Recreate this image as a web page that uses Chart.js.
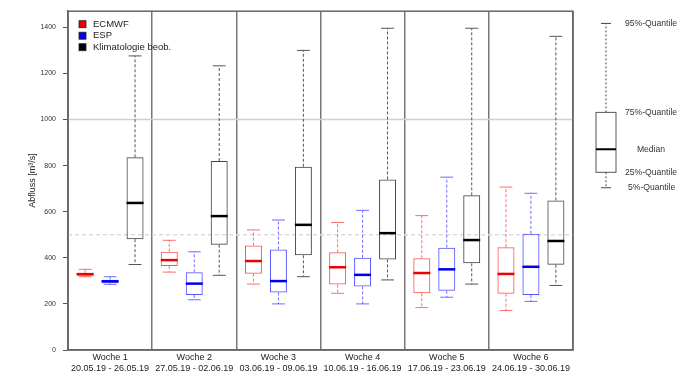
<!DOCTYPE html>
<html>
<head>
<meta charset="utf-8">
<script src="https://cdn.jsdelivr.net/npm/chart.js@4.4.1/dist/chart.umd.min.js"></script>
<style>
  html, body { margin: 0; padding: 0; background: #fff; }
  #wrap { width: 683px; height: 373px; }
</style>
</head>
<body>
<div id="wrap"><canvas id="myChart"></canvas></div>
<script>
// weeks and dates on the x axis
const weeks = ["Woche 1", "Woche 2", "Woche 3", "Woche 4", "Woche 5", "Woche 6"];
const dates = ["20.05.19 - 26.05.19", "27.05.19 - 02.06.19", "03.06.19 - 09.06.19",
               "10.06.19 - 16.06.19", "17.06.19 - 23.06.19", "24.06.19 - 30.06.19"];
const yTicks = [0, 200, 400, 600, 800, 1000, 1200, 1400];

// ECMWF quantiles
const ecmwfP5  = [318, 338, 286, 246, 184, 171];
const ecmwfQ25 = [322, 364, 331, 284, 246, 244];
const ecmwfMed = [329, 390, 386, 359, 334, 330];
const ecmwfQ75 = [335, 426, 453, 424, 398, 446];
const ecmwfP95 = [350, 476, 521, 553, 583, 707];

// ESP quantiles
const espP5  = [285, 218, 200, 200, 229, 211];
const espQ25 = [290, 239, 250, 276, 257, 239];
const espMed = [298, 288, 299, 326, 350, 361];
const espQ75 = [305, 337, 436, 400, 444, 504];
const espP95 = [318, 426, 564, 606, 750, 680];

// Klimatologie beob. quantiles
const klimaP5  = [371, 324, 318, 304, 286, 280];
const klimaQ25 = [481, 457, 411, 393, 376, 370];
const klimaMed = [638, 581, 543, 507, 477, 473];
const klimaQ75 = [836, 820, 795, 740, 671, 649];
const klimaP95 = [1276, 1233, 1300, 1396, 1396, 1361];

// reference lines
const solidLine = 1000;
const dashedLine = 500;

// schematic box in the right margin (5%, 25%, median, 75%, 95%)
const keyValues = [704, 771, 871, 1031, 1417];
const keyLabels = ["5%-Quantile", "25%-Quantile", "Median", "75%-Quantile", "95%-Quantile"];

const FONT = "'Liberation Sans', Arial, sans-serif";

function makeSet(label, box, whisker, median, p5, q25, med, q75, p95) {
    return {
        label: label,
        data: weeks.map((w, i) => [q25[i], q75[i]]),
        backgroundColor: "rgba(255,255,255,0)",
        borderColor: box,
        borderWidth: 1,
        borderSkipped: false,
        whiskerColor: whisker,
        medianColor: median,
        stats: { p5: p5, med: med, p95: p95 }
    };
}

const boxPlugin = {
    id: "boxWhiskers",
    beforeDatasetsDraw(chart) {
        const ctx = chart.ctx, a = chart.chartArea, y = chart.scales.y;
        ctx.save();
        ctx.lineWidth = 1.5;
        ctx.strokeStyle = "#d0d0d0";
        ctx.beginPath();
        ctx.moveTo(a.left, y.getPixelForValue(solidLine));
        ctx.lineTo(a.right, y.getPixelForValue(solidLine));
        ctx.stroke();
        ctx.strokeStyle = "#dcdcdc";
        ctx.setLineDash([4, 3]);
        ctx.beginPath();
        ctx.moveTo(a.left, y.getPixelForValue(dashedLine));
        ctx.lineTo(a.right, y.getPixelForValue(dashedLine));
        ctx.stroke();
        ctx.restore();
    },
    afterDatasetsDraw(chart) {
        const ctx = chart.ctx, y = chart.scales.y;
        ctx.save();
        chart.data.datasets.forEach((ds, di) => {
            const meta = chart.getDatasetMeta(di);
            meta.data.forEach((bar, i) => {
                const x = bar.x, w = bar.width;
                const lo = ds.data[i][0], hi = ds.data[i][1];
                const s = ds.stats;
                // whiskers
                ctx.strokeStyle = ds.whiskerColor;
                ctx.lineWidth = 1;
                ctx.setLineDash([3, 2]);
                ctx.beginPath();
                ctx.moveTo(x, y.getPixelForValue(hi));
                ctx.lineTo(x, y.getPixelForValue(s.p95[i]));
                ctx.moveTo(x, y.getPixelForValue(lo));
                ctx.lineTo(x, y.getPixelForValue(s.p5[i]));
                ctx.stroke();
                ctx.setLineDash([]);
                // caps
                ctx.beginPath();
                ctx.moveTo(x - w * 0.38, y.getPixelForValue(s.p95[i]));
                ctx.lineTo(x + w * 0.38, y.getPixelForValue(s.p95[i]));
                ctx.moveTo(x - w * 0.38, y.getPixelForValue(s.p5[i]));
                ctx.lineTo(x + w * 0.38, y.getPixelForValue(s.p5[i]));
                ctx.stroke();
                // median
                ctx.strokeStyle = ds.medianColor;
                ctx.lineWidth = 2.5;
                ctx.beginPath();
                ctx.moveTo(x - w / 2, y.getPixelForValue(s.med[i]));
                ctx.lineTo(x + w / 2, y.getPixelForValue(s.med[i]));
                ctx.stroke();
            });
        });
        ctx.restore();
    },
    afterDraw(chart) {
        const ctx = chart.ctx, a = chart.chartArea, y = chart.scales.y;
        ctx.save();
        // frame
        ctx.strokeStyle = "#666";
        ctx.lineWidth = 1.5;
        ctx.strokeRect(a.left, a.top, a.right - a.left, a.bottom - a.top);

        // legend top-left
        ctx.font = "9.5px " + FONT;
        ctx.textBaseline = "middle";
        ctx.textAlign = "left";
        chart.data.datasets.forEach((ds, di) => {
            const ly = a.top + 13 + di * 11.5;
            ctx.fillStyle = ds.medianColor;
            ctx.fillRect(a.left + 11, ly - 3.5, 7, 7);
            ctx.strokeStyle = "#222";
            ctx.lineWidth = 0.8;
            ctx.strokeRect(a.left + 11, ly - 3.5, 7, 7);
            ctx.fillStyle = "#222";
            ctx.fillText(ds.label, a.left + 25, ly);
        });

        // schematic key on the right
        const kx = a.right + 33, kw = 20;
        const py = keyValues.map(v => y.getPixelForValue(v));
        ctx.strokeStyle = "#444";
        ctx.lineWidth = 1;
        ctx.setLineDash([2, 2]);
        ctx.beginPath();
        ctx.moveTo(kx, py[3]); ctx.lineTo(kx, py[4]);
        ctx.moveTo(kx, py[1]); ctx.lineTo(kx, py[0]);
        ctx.stroke();
        ctx.setLineDash([]);
        ctx.beginPath();
        ctx.moveTo(kx - 5, py[4]); ctx.lineTo(kx + 5, py[4]);
        ctx.moveTo(kx - 5, py[0]); ctx.lineTo(kx + 5, py[0]);
        ctx.stroke();
        ctx.strokeStyle = "#555";
        ctx.strokeRect(kx - kw / 2, py[3], kw, py[1] - py[3]);
        ctx.strokeStyle = "#000";
        ctx.lineWidth = 2;
        ctx.beginPath();
        ctx.moveTo(kx - kw / 2, py[2]); ctx.lineTo(kx + kw / 2, py[2]);
        ctx.stroke();
        ctx.font = "8.6px " + FONT;
        ctx.fillStyle = "#333";
        keyLabels.forEach((t, k) => {
            if (t === "Median") {
                ctx.textAlign = "center";
                ctx.fillText(t, kx + 45, py[k]);
            } else {
                ctx.textAlign = "left";
                ctx.fillText(t, k === 0 ? kx + 22 : kx + 19, py[k]);
            }
        });
        ctx.restore();
    }
};

new Chart("myChart", {
    type: "bar",
    data: {
        labels: weeks.map((w, i) => [w, dates[i]]),
        datasets: [
            makeSet("ECMWF", "rgba(255,40,40,0.8)", "rgba(255,60,60,0.75)", "#ee0000",
                    ecmwfP5, ecmwfQ25, ecmwfMed, ecmwfQ75, ecmwfP95),
            makeSet("ESP", "rgba(40,40,255,0.8)", "rgba(60,60,255,0.75)", "#0000ee",
                    espP5, espQ25, espMed, espQ75, espP95),
            makeSet("Klimatologie beob.", "#444", "#555", "#000",
                    klimaP5, klimaQ25, klimaMed, klimaQ75, klimaP95)
        ]
    },
    options: {
        responsive: true,
        maintainAspectRatio: false,
        animation: false,
        categoryPercentage: 0.89,
        barPercentage: 0.68,
        layout: { padding: { left: 0, right: 110, top: 7, bottom: 0 } },
        plugins: {
            legend: { display: false },
            tooltip: { enabled: false }
        },
        scales: {
            x: {
                offset: true,
                grid: { offset: true, color: "#777", lineWidth: 1.5, drawTicks: false },
                border: { display: true, color: "#666", width: 1.5 },
                ticks: { color: "#222", font: { family: FONT, size: 9 }, padding: 2, maxRotation: 0, autoSkip: false },
                afterFit: (s) => { s.height = 23; }
            },
            y: {
                min: 0,
                max: 1470,
                afterBuildTicks: (s) => { s.ticks = yTicks.map(v => ({ value: v })); },
                grid: { drawOnChartArea: false, drawTicks: true, tickLength: 5, tickColor: "#555" },
                border: { display: true, color: "#666", width: 1.5 },
                ticks: {
                    color: "#333",
                    font: { family: FONT, size: 7 },
                    padding: 7,
                    callback: (v) => String(v)
                },
                title: {
                    display: true,
                    text: "Abfluss [m³/s]",
                    color: "#222",
                    font: { family: FONT, size: 9 },
                    padding: { top: 27, bottom: 0 }
                },
                afterFit: (s) => { s.width = 68; }
            }
        }
    },
    plugins: [boxPlugin]
});
</script>
</body>
</html>
